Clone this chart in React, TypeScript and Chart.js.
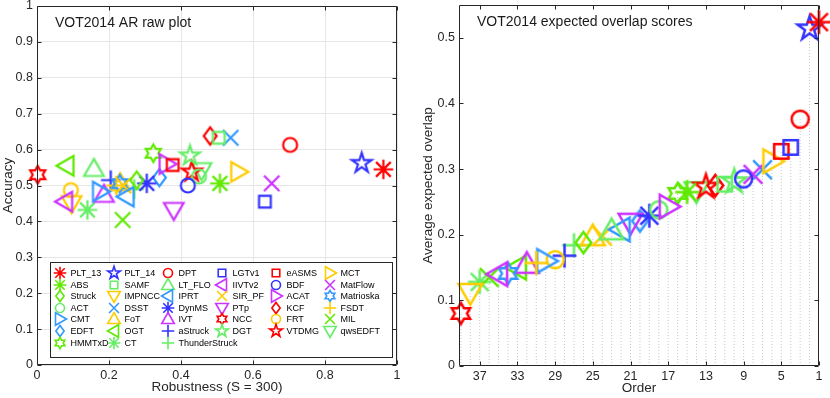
import React, { useEffect, useRef } from 'react';
import { Chart, registerables } from 'chart.js';

Chart.register(...registerables);
Chart.defaults.font.family = "'Liberation Sans', Arial, sans-serif";
Chart.defaults.color = '#262626';

// ---- Data (legend order, row-major, 6 columns) ----
const trackerNames = [
  'PLT_13', 'PLT_14', 'DPT', 'LGTv1', 'eASMS', 'MCT',
  'ABS', 'SAMF', 'LT_FLO', 'IIVTv2', 'BDF', 'MatFlow',
  'Struck', 'IMPNCC', 'IPRT', 'SIR_PF', 'ACAT', 'Matrioska',
  'ACT', 'DSST', 'DynMS', 'PTp', 'KCF', 'FSDT',
  'CMT', 'FoT', 'IVT', 'NCC', 'FRT', 'MIL',
  'EDFT', 'OGT', 'aStruck', 'DGT', 'VTDMG', 'qwsEDFT',
  'HMMTxD', 'CT', 'ThunderStruck',
];

const robustness = [
  0.962, 0.902, 0.703, 0.633, 0.377, 0.559,
  0.508, 0.505, 0.158, 0.078, 0.419, 0.652,
  0.277, 0.096, 0.249, 0.240, 0.360, 0.230,
  0.450, 0.538, 0.305, 0.380, 0.481, 0.220,
  0.175, 0.231, 0.186, 0.002, 0.094, 0.238,
  0.340, 0.082, 0.205, 0.425, 0.430, 0.457,
  0.323, 0.140, 0.270,
];

const accuracy = [
  0.545, 0.562, 0.613, 0.455, 0.557, 0.538,
  0.506, 0.633, 0.546, 0.455, 0.500, 0.506,
  0.515, 0.451, 0.469, 0.500, 0.560, 0.505,
  0.525, 0.633, 0.506, 0.432, 0.638, 0.500,
  0.483, 0.506, 0.474, 0.530, 0.487, 0.404,
  0.522, 0.555, 0.515, 0.583, 0.538, 0.543,
  0.590, 0.432, 0.490,
];

const expectedOverlap = [
  0.524, 0.514, 0.376, 0.333, 0.327, 0.312,
  0.265, 0.277, 0.206, 0.140, 0.285, 0.292,
  0.188, 0.112, 0.208, 0.198, 0.243, 0.141,
  0.238, 0.299, 0.229, 0.219, 0.275, 0.157,
  0.160, 0.197, 0.155, 0.080, 0.162, 0.135,
  0.221, 0.150, 0.168, 0.281, 0.273, 0.267,
  0.263, 0.128, 0.184,
];

const markerShapes = [
  'asterisk', 'pentagram', 'circle', 'square', 'square', 'triRight',
  'asterisk', 'square', 'triUp', 'triLeft', 'circle', 'x',
  'diamond', 'triDown', 'triLeft', 'x', 'triRight', 'hexagram',
  'circle', 'x', 'asterisk', 'triDown', 'diamond', 'plus',
  'triRight', 'triUp', 'triUp', 'hexagram', 'circle', 'x',
  'diamond', 'triLeft', 'plus', 'pentagram', 'pentagram', 'triDown',
  'hexagram', 'asterisk', 'plus',
];

const markerColors = [
  'red', 'blue', 'red', 'blue', 'red', 'yellow',
  'green', 'lightgreen', 'lightgreen', 'magenta', 'blue', 'magenta',
  'green', 'yellow', 'lightblue', 'yellow', 'magenta', 'lightblue',
  'lightgreen', 'lightblue', 'blue', 'magenta', 'red', 'yellow',
  'lightblue', 'yellow', 'magenta', 'red', 'yellow', 'green',
  'lightblue', 'green', 'blue', 'lightgreen', 'red', 'lightgreen',
  'green', 'lightgreen', 'lightgreen',
];

const arXTicks = [0, 0.2, 0.4, 0.6, 0.8, 1];
const arYTicks = [0, 0.1, 0.2, 0.3, 0.4, 0.5, 0.6, 0.7, 0.8, 0.9, 1];
const eoYTicks = [0, 0.1, 0.2, 0.3, 0.4, 0.5];
const eoXTicks = [37, 33, 29, 25, 21, 17, 13, 9, 5, 1];

// rank (Order) derived from expected overlap: 1 = best
const overlapOrder = expectedOverlap.map((v) => 1 + expectedOverlap.filter((w) => w > v).length);

const PALETTE: Record<string, string> = {
  red: '#FF0000',
  blue: '#3333FF',
  green: '#5FEA00',
  lightgreen: '#66EE66',
  lightblue: '#3399FF',
  yellow: '#FFCC00',
  magenta: '#CC33FF',
};

function makeMarker(shape: string, color: string, s: number, lw: number): HTMLCanvasElement {
  const ext = s * 0.8 + lw + 2;
  const size = Math.ceil(ext * 2);
  const c = document.createElement('canvas');
  c.width = size;
  c.height = size;
  const ctx = c.getContext('2d') as CanvasRenderingContext2D;
  ctx.translate(size / 2, size / 2);
  ctx.strokeStyle = color;
  ctx.lineWidth = lw;
  ctx.lineJoin = 'miter';
  ctx.lineCap = 'butt';
  ctx.beginPath();
  const a = 0.72 * s, b = 0.5 * s, w = 0.7 * s;
  switch (shape) {
    case 'circle':
      ctx.arc(0, 0, s / 2, 0, Math.PI * 2);
      break;
    case 'square': {
      const h = s * 0.42;
      ctx.rect(-h, -h, 2 * h, 2 * h);
      break;
    }
    case 'diamond': {
      const dw = s * 0.46, dh = s * 0.62;
      ctx.moveTo(0, -dh); ctx.lineTo(dw, 0); ctx.lineTo(0, dh); ctx.lineTo(-dw, 0); ctx.closePath();
      break;
    }
    case 'triUp':
      ctx.moveTo(0, -a); ctx.lineTo(w, b); ctx.lineTo(-w, b); ctx.closePath();
      break;
    case 'triDown':
      ctx.moveTo(0, a); ctx.lineTo(w, -b); ctx.lineTo(-w, -b); ctx.closePath();
      break;
    case 'triRight':
      ctx.moveTo(a, 0); ctx.lineTo(-b, -w); ctx.lineTo(-b, w); ctx.closePath();
      break;
    case 'triLeft':
      ctx.moveTo(-a, 0); ctx.lineTo(b, -w); ctx.lineTo(b, w); ctx.closePath();
      break;
    case 'pentagram': {
      const R = 0.74 * s, r = R * 0.382;
      for (let k = 0; k < 10; k++) {
        const ang = -Math.PI / 2 + (k * Math.PI) / 5;
        const rr = k % 2 === 0 ? R : r;
        const px = rr * Math.cos(ang), py = rr * Math.sin(ang);
        if (k === 0) ctx.moveTo(px, py); else ctx.lineTo(px, py);
      }
      ctx.closePath();
      break;
    }
    case 'hexagram': {
      const R = 0.62 * s, r = R / Math.sqrt(3);
      for (let k = 0; k < 12; k++) {
        const ang = -Math.PI / 2 + (k * Math.PI) / 6;
        const rr = k % 2 === 0 ? R : r;
        const px = rr * Math.cos(ang), py = rr * Math.sin(ang);
        if (k === 0) ctx.moveTo(px, py); else ctx.lineTo(px, py);
      }
      ctx.closePath();
      break;
    }
    case 'asterisk': {
      const r = 0.7 * s;
      const d = r * 0.75;
      ctx.moveTo(-r, 0); ctx.lineTo(r, 0);
      ctx.moveTo(0, -r); ctx.lineTo(0, r);
      ctx.moveTo(-d, -d); ctx.lineTo(d, d);
      ctx.moveTo(-d, d); ctx.lineTo(d, -d);
      break;
    }
    case 'plus': {
      const r = 0.7 * s;
      ctx.moveTo(-r, 0); ctx.lineTo(r, 0);
      ctx.moveTo(0, -r); ctx.lineTo(0, r);
      break;
    }
    case 'x': {
      const r = 0.55 * s;
      ctx.moveTo(-r, -r); ctx.lineTo(r, r);
      ctx.moveTo(-r, r); ctx.lineTo(r, -r);
      break;
    }
  }
  ctx.stroke();
  return c;
}

const fmt = (v: any) => String(Math.round(Number(v) * 100) / 100);

const zeroPad = (s: any) => {
  s.paddingTop = 0;
  s.paddingBottom = 0;
  s.paddingLeft = 0;
  s.paddingRight = 0;
};

function boxPlugin(tickLen: number) {
  return {
    id: 'matlabBox',
    afterDatasetsDraw(chart: any) {
      const { ctx, chartArea: ar, scales } = chart;
      ctx.save();
      ctx.strokeStyle = '#262626';
      ctx.lineWidth = 1;
      const L = Math.round(ar.left) + 0.5, R = Math.round(ar.right) - 0.5;
      const T = Math.round(ar.top) + 0.5, B = Math.round(ar.bottom) - 0.5;
      ctx.beginPath();
      ctx.rect(L, T, R - L, B - T);
      scales.x.ticks.forEach((t: any) => {
        const px = Math.round(scales.x.getPixelForValue(t.value)) + 0.5;
        ctx.moveTo(px, B); ctx.lineTo(px, B - tickLen);
        ctx.moveTo(px, T); ctx.lineTo(px, T + tickLen);
      });
      scales.y.ticks.forEach((t: any) => {
        const py = Math.round(scales.y.getPixelForValue(t.value)) + 0.5;
        ctx.moveTo(L, py); ctx.lineTo(L + tickLen, py);
        ctx.moveTo(R, py); ctx.lineTo(R - tickLen, py);
      });
      ctx.stroke();
      ctx.restore();
    },
  };
}

function titlePlugin(text: string) {
  return {
    id: 'innerTitle',
    afterDraw(chart: any) {
      const { ctx, chartArea: ar } = chart;
      ctx.save();
      ctx.font = "14px 'Liberation Sans', Arial, sans-serif";
      ctx.fillStyle = '#1a1a1a';
      ctx.textAlign = 'left';
      ctx.textBaseline = 'middle';
      ctx.fillText(text, ar.left + 18, ar.top + 17);
      ctx.restore();
    },
  };
}

function legendPlugin(markers: HTMLCanvasElement[]) {
  return {
    id: 'gridLegend',
    afterDraw(chart: any) {
      const { ctx } = chart;
      ctx.save();
      const left = 50.5, top = 262.5, right = 392.5, bottom = 357.5;
      ctx.fillStyle = '#ffffff';
      ctx.fillRect(left, top, right - left, bottom - top);
      ctx.strokeStyle = '#262626';
      ctx.lineWidth = 1;
      ctx.strokeRect(left, top, right - left, bottom - top);
      ctx.font = "9px 'Liberation Sans', Arial, sans-serif";
      ctx.fillStyle = '#000000';
      ctx.textAlign = 'left';
      ctx.textBaseline = 'middle';
      trackerNames.forEach((name, i) => {
        const col = i % 6, row = Math.floor(i / 6);
        const mx = 59.5 + col * 54;
        const my = 273 + row * 11.6;
        const m = markers[i];
        ctx.drawImage(m, Math.round(mx - m.width / 2), Math.round(my - m.height / 2));
        ctx.fillText(name, mx + 11, my + 0.5);
      });
      ctx.restore();
    },
  };
}

function ARChart() {
  const ref = useRef<HTMLCanvasElement>(null);
  useEffect(() => {
    const markers = trackerNames.map((_, i) => makeMarker(markerShapes[i], PALETTE[markerColors[i]], 14, 2.2));
    const legendMarkers = trackerNames.map((_, i) => makeMarker(markerShapes[i], PALETTE[markerColors[i]], 9, 1.6));
    const chart = new Chart(ref.current as HTMLCanvasElement, {
      type: 'scatter',
      data: {
        datasets: trackerNames.map((name, i) => ({
          label: name,
          data: [{ x: robustness[i], y: accuracy[i] }],
          pointStyle: markers[i] as any,
          pointRadius: 8,
          pointHoverRadius: 8,
          clip: false as any,
        })),
      },
      options: {
        responsive: false,
        animation: false,
        events: [],
        layout: { autoPadding: false, padding: { left: 0, top: 6, right: 18, bottom: 0 } },
        plugins: { legend: { display: false }, tooltip: { enabled: false } },
        scales: {
          x: {
            type: 'linear', min: 0, max: 1,
            afterBuildTicks: (s: any) => { s.ticks = arXTicks.map((v) => ({ value: v })); },
            afterFit: (s: any) => { s.height = 33; zeroPad(s); },
            grid: { color: '#e6e6e6', drawTicks: false },
            border: { display: false },
            ticks: { padding: 3, font: { size: 12.5 }, color: '#262626', callback: fmt, autoSkip: false, maxRotation: 0 },
            title: { display: true, text: 'Robustness (S = 300)', font: { size: 13.5 }, color: '#262626', padding: { top: 0, bottom: 2.5 } },
          },
          y: {
            type: 'linear', min: 0, max: 1,
            afterBuildTicks: (s: any) => { s.ticks = arYTicks.map((v) => ({ value: v })); },
            afterFit: (s: any) => { s.width = 37; zeroPad(s); },
            grid: { color: '#e6e6e6', drawTicks: false },
            border: { display: false },
            ticks: { padding: 4, font: { size: 12.5 }, color: '#262626', callback: fmt, autoSkip: false },
            title: { display: true, text: 'Accuracy', font: { size: 13.5 }, color: '#262626', padding: { top: 0, bottom: 0 } },
          },
        },
      } as any,
      plugins: [boxPlugin(4), legendPlugin(legendMarkers), titlePlugin('VOT2014 AR raw plot')],
    });
    return () => chart.destroy();
  }, []);
  return <canvas ref={ref} width={415} height={398} style={{ position: 'absolute', left: 0, top: 0, display: 'block' }} />;
}

function EOChart() {
  const ref = useRef<HTMLCanvasElement>(null);
  useEffect(() => {
    const markers = trackerNames.map((_, i) => makeMarker(markerShapes[i], PALETTE[markerColors[i]], 17, 2.5));
    const stemData: any[] = [];
    trackerNames.forEach((_, i) => {
      stemData.push({ x: overlapOrder[i], y: 0 });
      stemData.push({ x: overlapOrder[i], y: expectedOverlap[i] });
      stemData.push({ x: overlapOrder[i], y: null });
    });
    const datasets: any[] = trackerNames.map((name, i) => ({
      label: name,
      data: [{ x: overlapOrder[i], y: expectedOverlap[i] }],
      pointStyle: markers[i],
      pointRadius: 9,
      pointHoverRadius: 9,
      clip: false,
      order: 0,
    }));
    datasets.push({
      label: 'stems',
      data: stemData,
      showLine: true,
      spanGaps: false,
      pointRadius: 0,
      borderColor: '#c8c8c8',
      borderWidth: 1,
      borderDash: [1, 2],
      order: 1,
    });
    const chart = new Chart(ref.current as HTMLCanvasElement, {
      type: 'scatter',
      data: { datasets },
      options: {
        responsive: false,
        animation: false,
        events: [],
        layout: { autoPadding: false, padding: { left: 0, top: 5, right: 11, bottom: 0 } },
        plugins: { legend: { display: false }, tooltip: { enabled: false } },
        scales: {
          x: {
            type: 'linear', min: 1, max: 39.2, reverse: true,
            afterBuildTicks: (s: any) => { s.ticks = eoXTicks.map((v) => ({ value: v })); },
            afterFit: (s: any) => { s.height = 32; zeroPad(s); },
            grid: { display: false, drawTicks: false },
            border: { display: false },
            ticks: { padding: 3, font: { size: 12.5 }, color: '#262626', callback: fmt, autoSkip: false, maxRotation: 0 },
            title: { display: true, text: 'Order', font: { size: 13.5 }, color: '#262626', padding: { top: 0, bottom: 2 } },
          },
          y: {
            type: 'linear', min: 0, max: 0.55,
            afterBuildTicks: (s: any) => { s.ticks = eoYTicks.map((v) => ({ value: v })); },
            afterFit: (s: any) => { s.width = 44; zeroPad(s); },
            grid: { display: false, drawTicks: false },
            border: { display: false },
            ticks: { padding: 4, font: { size: 12.5 }, color: '#262626', callback: fmt, autoSkip: false },
            title: { display: true, text: 'Average expected overlap', font: { size: 13.5 }, color: '#262626', padding: { top: 5, bottom: 0 } },
          },
        },
      } as any,
      plugins: [boxPlugin(4), titlePlugin('VOT2014 expected overlap scores')],
    });
    return () => chart.destroy();
  }, []);
  return <canvas ref={ref} width={415} height={398} style={{ position: 'absolute', left: 415, top: 0, display: 'block' }} />;
}

export default function App() {
  return (
    <div style={{ position: 'fixed', left: 0, top: 0, width: 830, height: 398, background: '#ffffff', overflow: 'hidden' }}>
      <ARChart />
      <EOChart />
    </div>
  );
}
